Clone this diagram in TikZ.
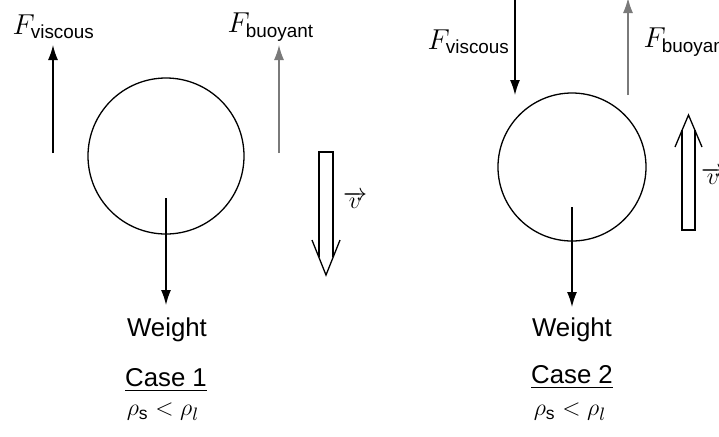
\documentclass[tikz,border=0pt]{standalone}
\usepackage{fontspec}
\setmainfont{Liberation Sans}
\usetikzlibrary{arrows.meta}

\begin{document}
\begin{tikzpicture}[x=0.5pt, y=-0.5pt, line width=0.65pt, >={Latex[length=7.5pt,width=5pt]}]
    % Define colours
    \definecolor{buoyColour}{HTML}{7A7A7A}

    \tikzset{
        ball/.style={circle, draw, inner sep=0pt, minimum size=#1},
        forceLabel/.style={anchor=west, inner sep=0pt, font=\fontsize{13.5}{16}\selectfont},
        caseText/.style={inner sep=0pt, font=\fontsize{12.9}{15}\selectfont},
        densText/.style={inner sep=0pt, font=\fontsize{12.5}{14}\selectfont},
        velLabel/.style={inner sep=0pt, font=\fontsize{12}{14}\selectfont}
    }

    % Fix page size
    \useasboundingbox (0,0) rectangle (719,436);

    % ---- Case 1 ----
    \node[ball=78pt] (ballOne) at (166,156) {};

    % Forces
    \coordinate (fvOneTail) at (53,153);
    \coordinate (fvOneHead) at (53,45);
    \coordinate (fbOneTail) at (279,153);
    \coordinate (fbOneHead) at (279,45);
    \coordinate (wOneTail) at (166,198);
    \coordinate (wOneHead) at (166,305);
    \draw[->] (fvOneTail) -- (fvOneHead);
    \draw[->, draw=buoyColour] (fbOneTail) -- (fbOneHead);
    \draw[->] (wOneTail) -- (wOneHead);
    \node[forceLabel] (fvOneLabel) at (12,27) {$F_{\mathrm{viscous}}$};
    \node[forceLabel] (fbOneLabel) at (227,27) {$F_{\mathrm{buoyant}}$};

    % Velocity (hollow arrow down)
    \draw (319,257) -- (319,152) -- (333,152) -- (333,257);
    \draw (312,240) -- (326,275) -- (340,240);
    \node[velLabel] (vOne) at (355,200) {$\overrightarrow{v}$};

    % Texts
    \node[caseText] (weightOne) at (167,330) {Weight};
    \node[caseText] (caseOne) at (166,380) {\underline{Case 1}};
    \node[densText] (densOne) at (163,412) {$\rho_{\mathrm{s}} < \rho_{l}$};

    % ---- Case 2 ----
    \node[ball=74pt] (ballTwo) at (572,167) {};

    % Forces
    \coordinate (fvTwoTail) at (515,-2);
    \coordinate (fvTwoHead) at (515,95);
    \coordinate (fbTwoTail) at (628,95);
    \coordinate (fbTwoHead) at (628,-2);
    \coordinate (wTwoTail) at (572,207);
    \coordinate (wTwoHead) at (572,307);
    \draw[->] (fvTwoTail) -- (fvTwoHead);
    \draw[->, draw=buoyColour] (fbTwoTail) -- (fbTwoHead);
    \draw[->] (wTwoTail) -- (wTwoHead);
    \node[forceLabel] (fvTwoLabel) at (427,42) {$F_{\mathrm{viscous}}$};
    \node[forceLabel] (fbTwoLabel) at (643,42) {$F_{\mathrm{buoyant}}$};

    % Velocity (hollow arrow up)
    \draw (682,130) -- (682,230) -- (695,230) -- (695,130);
    \draw (675,147) -- (688.5,115) -- (702,147);
    \node[velLabel] (vTwo) at (713,176) {$\overrightarrow{v}$};

    % Texts
    \node[caseText] (weightTwo) at (572,330) {Weight};
    \node[caseText] (caseTwo) at (572,377) {\underline{Case 2}};
    \node[densText] (densTwo) at (570,412) {$\rho_{\mathrm{s}} < \rho_{l}$};

\end{tikzpicture}
\end{document}
